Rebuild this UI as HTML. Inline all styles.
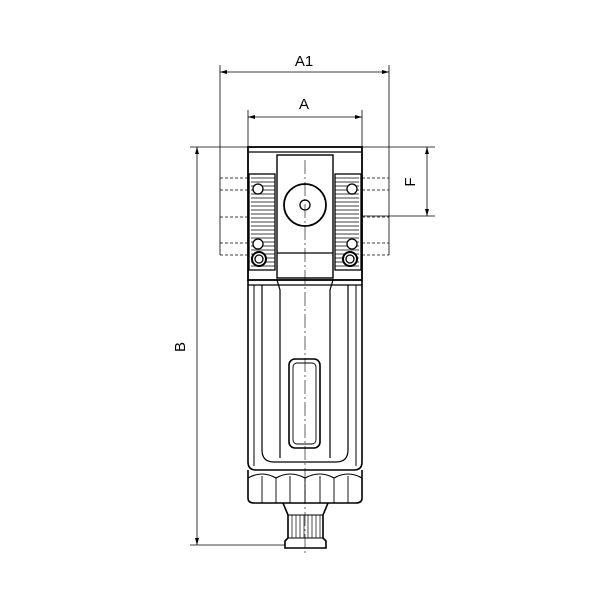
<!DOCTYPE html>
<html><head><style>body{margin:0;background:#fff}svg{display:block}</style></head><body>
<svg width="600" height="600" viewBox="0 0 600 600" xmlns="http://www.w3.org/2000/svg" fill="none" stroke="#000">
<g stroke-width="0.8">
<line x1="220" y1="65" x2="220" y2="255"/><line x1="389" y1="65" x2="389" y2="255"/>
<line x1="248" y1="110" x2="248" y2="147"/><line x1="362" y1="110" x2="362" y2="147"/>
<line x1="190" y1="147" x2="435" y2="147"/>
<line x1="362" y1="216" x2="435" y2="216"/>
<line x1="190" y1="545" x2="285" y2="545"/>
<line x1="220" y1="72" x2="389" y2="72"/>
<line x1="248" y1="117" x2="362" y2="117"/>
<line x1="427" y1="147" x2="427" y2="216"/>
<line x1="197" y1="147" x2="197" y2="545"/>
</g>
<g fill="#000" stroke="none">
<path d="M220 72l7-2v4z M389 72l-7-2v4z M248 117l7-2v4z M362 117l-7-2v4z M427 147l-2 7h4z M427 216l-2-7h4z M197 147l-2 7h4z M197 545l-2-7h4z"/>
</g>
<g font-family="Liberation Sans, sans-serif" font-size="15" fill="#000" stroke="none">
<text x="304" y="66" text-anchor="middle">A1</text>
<text x="304" y="109" text-anchor="middle">A</text>
<text transform="translate(415,182) rotate(-90)" text-anchor="middle">F</text>
<text transform="translate(185,347) rotate(-90)" text-anchor="middle">B</text>
</g>
<g stroke-width="0.8" stroke-dasharray="3,2">
<path d="M220 178H248M220 190H248M220 217H248M220 243H248M220 255H248"/>
<path d="M362 178H389M362 190H389M362 217H389M362 243H389M362 255H389"/>
</g>
<g stroke-width="1.8">
<rect x="248" y="147" width="114" height="133"/>
<line x1="249" y1="152" x2="361" y2="152" stroke-width="1.2"/>
<rect x="277" y="155" width="56" height="123" stroke-width="1.4"/>
<line x1="277" y1="253" x2="333" y2="253" stroke-width="1.2"/>
</g>
<g stroke="#666" stroke-width="1.3">
<path d="M251 178h24M251 182h24M251 186h24M251 190h24M251 194h24M251 198h24M251 202h24M251 206h24M251 210h24M251 214h24M251 218h24M251 222h24M251 226h24M251 230h24M251 234h24M251 238h24M251 242h24M251 246h24M251 250h24M251 254h24M251 258h24M251 262h24M251 266h24"/>
<path d="M335 178h24M335 182h24M335 186h24M335 190h24M335 194h24M335 198h24M335 202h24M335 206h24M335 210h24M335 214h24M335 218h24M335 222h24M335 226h24M335 230h24M335 234h24M335 238h24M335 242h24M335 246h24M335 250h24M335 254h24M335 258h24M335 262h24M335 266h24"/>
</g>
<g stroke-width="1.3">
<rect x="249" y="174" width="26" height="96"/><rect x="335" y="174" width="26" height="96"/>
<circle cx="305" cy="205" r="21" stroke-width="1.8"/><circle cx="305" cy="205" r="5"/>
<circle cx="258" cy="189" r="5" fill="#fff"/><circle cx="352" cy="189" r="5" fill="#fff"/>
<circle cx="258" cy="244" r="5" fill="#fff"/><circle cx="352" cy="244" r="5" fill="#fff"/>
<circle cx="259" cy="259" r="7" fill="#fff" stroke-width="2"/><circle cx="350" cy="259" r="7" fill="#fff" stroke-width="2"/>
<circle cx="259" cy="259" r="4"/><circle cx="350" cy="259" r="4"/>
</g>
<g stroke-width="1.6">
<path d="M248 280V462Q248 470 256 470H354Q362 470 362 462V280"/>
<path d="M248 285H362" stroke-width="1.2"/>
<path d="M254 285V466M356 285V466" stroke-width="1"/>
<path d="M262 285V450Q262 462 274 462H336Q348 462 348 450V285" stroke-width="1.2"/>
<path d="M277 280l3 10V458M333 280l-3 10V458" stroke-width="1.2"/>
<rect x="289" y="359" width="31" height="89" rx="6"/>
<rect x="293" y="363" width="23" height="81" rx="4" stroke-width="0.9"/>
<path d="M248 470V498Q248 503 254 503H356Q362 503 362 498V470"/>
<path d="M248 478Q262 470 276 478Q290 470 305 478Q320 470 334 478Q348 470 362 478" stroke-width="1.1"/>
<path d="M262 476V503M276 478V503M290 476V503M305 478V503M320 476V503M334 478V503M348 476V503" stroke-width="0.9"/>
<path d="M283 503L288 515V538L285 541V548H326V541L323 538V515L328 503"/>
<path d="M288 515H323M288 538H323" stroke-width="1.1"/>
<path d="M292 515V538M296 515V538M300 515V538M304 515V538M308 515V538M312 515V538M316 515V538M320 515V538" stroke-width="0.7"/>
</g>
<line x1="305" y1="160" x2="305" y2="555" stroke-width="0.6" stroke-dasharray="14,3,2,3"/>
</svg>
</body></html>
